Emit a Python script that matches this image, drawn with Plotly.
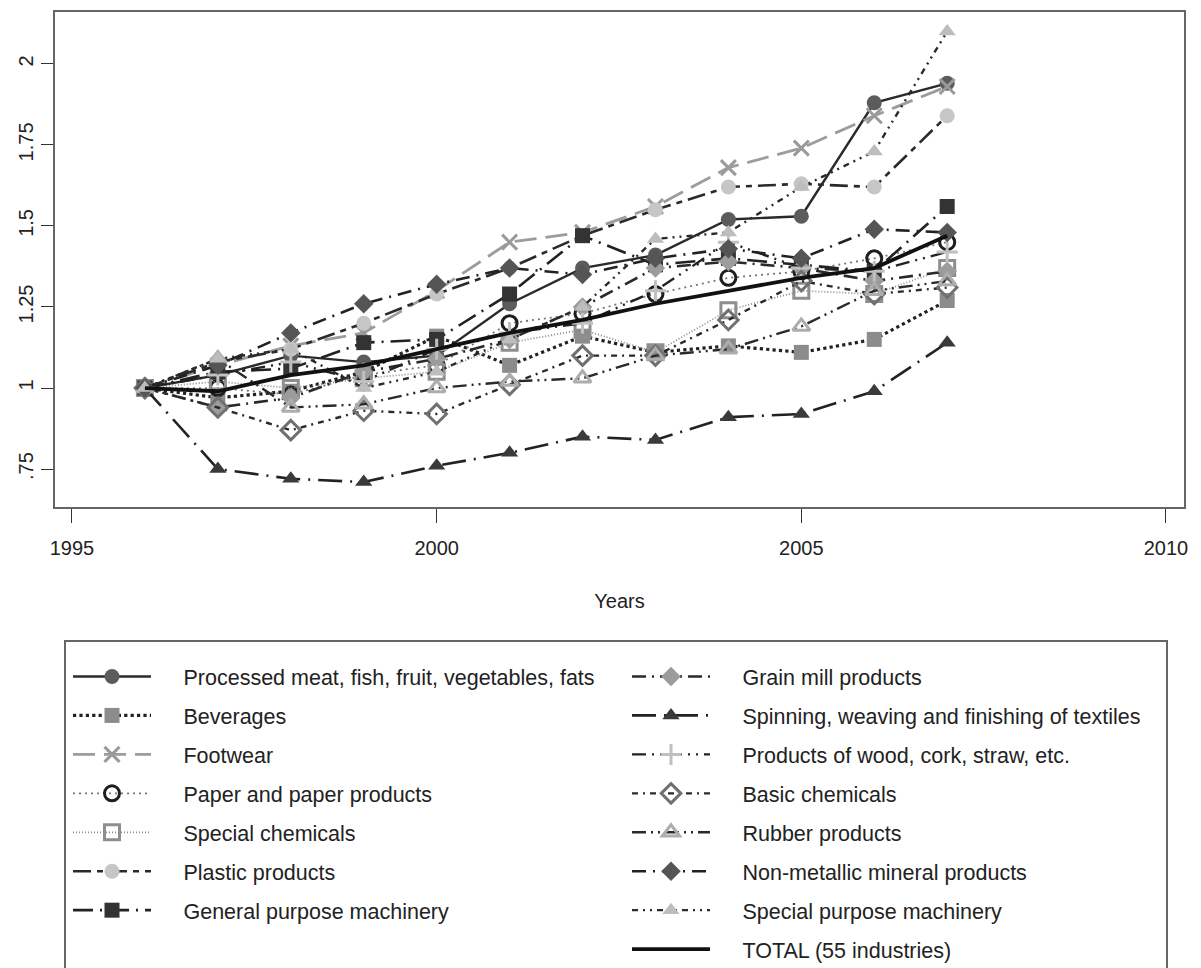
import plotly.graph_objects as go

# Years covered by every series
years = [1996, 1997, 1998, 1999, 2000, 2001, 2002, 2003, 2004, 2005, 2006, 2007]

# Index of productivity (1996 = 1) for each industry
processed_meat = [1.00, 1.04, 1.10, 1.08, 1.10, 1.26, 1.37, 1.41, 1.52, 1.53, 1.88, 1.94]
beverages = [1.00, 0.97, 0.99, 1.05, 1.16, 1.07, 1.16, 1.11, 1.13, 1.11, 1.15, 1.27]
footwear = [1.00, 1.07, 1.13, 1.17, 1.30, 1.45, 1.48, 1.56, 1.68, 1.74, 1.84, 1.93]
paper = [1.00, 1.00, 0.98, 1.04, 1.07, 1.20, 1.23, 1.29, 1.34, 1.36, 1.40, 1.45]
special_chem = [1.00, 1.02, 1.00, 1.03, 1.05, 1.14, 1.18, 1.11, 1.24, 1.30, 1.29, 1.37]
plastic = [1.00, 1.08, 1.12, 1.20, 1.29, 1.37, 1.47, 1.55, 1.62, 1.63, 1.62, 1.84]
general_machinery = [1.00, 1.05, 1.06, 1.14, 1.15, 1.29, 1.47, 1.38, 1.40, 1.38, 1.36, 1.56]
grain_mill = [1.00, 0.94, 0.97, 1.05, 1.09, 1.15, 1.25, 1.37, 1.39, 1.37, 1.33, 1.36]
textiles = [1.00, 0.75, 0.72, 0.71, 0.76, 0.80, 0.85, 0.84, 0.91, 0.92, 0.99, 1.14]
wood = [1.00, 1.04, 1.08, 1.02, 1.12, 1.17, 1.20, 1.30, 1.45, 1.37, 1.36, 1.42]
basic_chem = [1.00, 0.94, 0.87, 0.93, 0.92, 1.01, 1.10, 1.10, 1.21, 1.33, 1.29, 1.31]
rubber = [1.00, 1.09, 0.94, 0.95, 1.00, 1.02, 1.03, 1.10, 1.12, 1.19, 1.30, 1.33]
non_metallic = [1.00, 1.07, 1.17, 1.26, 1.32, 1.37, 1.35, 1.40, 1.43, 1.40, 1.49, 1.48]
special_machinery = [1.00, 1.09, 1.12, 1.00, 1.05, 1.15, 1.25, 1.46, 1.48, 1.62, 1.73, 2.10]
total = [1.00, 0.99, 1.04, 1.07, 1.12, 1.17, 1.21, 1.26, 1.30, 1.34, 1.37, 1.47]

x_ticks = [1995, 2000, 2005, 2010]
y_ticks = [0.75, 1.0, 1.25, 1.5, 1.75, 2.0]
y_tick_text = [".75", "1", "1.25", "1.5", "1.75", "2"]

FONT = "Liberation Sans, Arial, Helvetica, sans-serif"
PAD = "\u2002\u2002\u00a0"  # gap between legend key and label

# name, values, marker symbol, marker colour, line colour, dash, line width, legend column
series = [
    ("Processed meat, fish, fruit, vegetables, fats", processed_meat, "circle", "#5c5c5c", "#2a2a2a", "solid", 2.4, "legend"),
    ("Beverages", beverages, "square", "#8c8c8c", "#222222", "dot", 3.2, "legend"),
    ("Footwear", footwear, "x-thin-open", "#9a9a9a", "#9c9c9c", "22px,9px", 2.8, "legend"),
    ("Paper and paper products", paper, "circle-open", "#1e1e1e", "#777777", "2px,4px", 1.8, "legend"),
    ("Special chemicals", special_chem, "square-open", "#8e8e8e", "#8a8a8a", "1px,2px", 1.8, "legend"),
    ("Plastic products", plastic, "circle", "#c6c6c6", "#2a2a2a", "18px,6px,6px,6px", 2.6, "legend"),
    ("General purpose machinery", general_machinery, "square", "#333333", "#222222", "20px,7px,2px,7px", 2.6, "legend"),
    ("Grain mill products", grain_mill, "diamond", "#9c9c9c", "#2a2a2a", "14px,6px,2px,6px", 2.6, "legend2"),
    ("Spinning, weaving and finishing of textiles", textiles, "triangle-up", "#3a3a3a", "#222222", "24px,8px,2px,8px", 2.6, "legend2"),
    ("Products of wood, cork, straw, etc.", wood, "cross-thin-open", "#c0c0c0", "#222222", "14px,6px,2px,6px,2px,6px", 2.4, "legend2"),
    ("Basic chemicals", basic_chem, "diamond-open", "#707070", "#2a2a2a", "6px,5px,2px,5px", 2.4, "legend2"),
    ("Rubber products", rubber, "triangle-up-open", "#adadad", "#2a2a2a", "14px,5px,2px,5px,2px,5px", 2.4, "legend2"),
    ("Non-metallic mineral products", non_metallic, "diamond", "#555555", "#222222", "14px,7px,2px,7px", 2.6, "legend2"),
    ("Special purpose machinery", special_machinery, "triangle-up", "#bdbdbd", "#2a2a2a", "6px,5px,2px,5px,2px,5px", 2.4, "legend2"),
]

fig = go.Figure()

for i, (name, vals, sym, mcol, lcol, dash, lw, leg) in enumerate(series):
    is_open = sym.endswith("-open")
    marker = dict(symbol=sym, size=15, color=mcol)
    if is_open:
        marker["line"] = dict(color=mcol, width=3)
    else:
        marker["line"] = dict(width=0)
    fig.add_trace(go.Scatter(
        x=years, y=vals, name=PAD + name, mode="lines+markers",
        line=dict(color=lcol, width=lw, dash=dash),
        marker=marker, legend=leg, legendgroup=f"g{i}",
    ))

fig.add_trace(go.Scatter(
    x=years, y=total, name=PAD + "TOTAL (55 industries)", mode="lines",
    line=dict(color="#111111", width=3.8), legend="legend2", legendgroup="gtotal",
))

W, H = 1201, 968
L, R, T, B = 55, 17, 12, 461
pw, ph = W - L - R, H - T - B


def px_x(p):
    return (p - L) / pw


def px_y(p):
    return (H - B - p) / ph


legend_common = dict(
    orientation="v", xanchor="left", yanchor="top",
    font=dict(family=FONT, size=21.5, color="#222222"),
    bgcolor="rgba(0,0,0,0)", borderwidth=0,
    itemwidth=78, tracegroupgap=8, traceorder="grouped",
    itemclick=False, itemdoubleclick=False,
)

fig.update_layout(
    width=W, height=H,
    margin=dict(l=L, r=R, t=T, b=B, pad=0, autoexpand=False),
    plot_bgcolor="white", paper_bgcolor="white",
    font=dict(family=FONT, size=20, color="#222222"),
    showlegend=True,
    legend=dict(x=px_x(68), y=px_y(656), **legend_common),
    legend2=dict(x=px_x(627), y=px_y(656), **legend_common),
    xaxis=dict(
        range=[1994.767, 2010.247], tickvals=x_ticks, ticks="outside",
        ticklen=14, tickwidth=1, tickcolor="#333333", ticklabelstandoff=8,
        showline=True, linecolor="#666666", linewidth=2, mirror=True,
        showgrid=False, zeroline=False,
        tickfont=dict(family=FONT, size=20, color="#222222"),
        title=dict(text="Years", standoff=36, font=dict(family=FONT, size=20, color="#222222")),
    ),
    yaxis=dict(
        range=[0.633, 2.160], tickvals=y_ticks, ticktext=y_tick_text,
        ticks="outside", ticklen=12, tickwidth=1, tickcolor="#333333",
        tickangle=-90,
        showline=True, linecolor="#666666", linewidth=2, mirror=True,
        showgrid=False, zeroline=False,
        tickfont=dict(family=FONT, size=20, color="#222222"),
    ),
    shapes=[dict(
        type="rect", xref="paper", yref="paper",
        x0=px_x(65), x1=px_x(1167), y0=px_y(1030), y1=px_y(641),
        line=dict(color="#666666", width=2), fillcolor="rgba(0,0,0,0)",
        layer="below",
    )],
)

fig.write_html("out.html")
